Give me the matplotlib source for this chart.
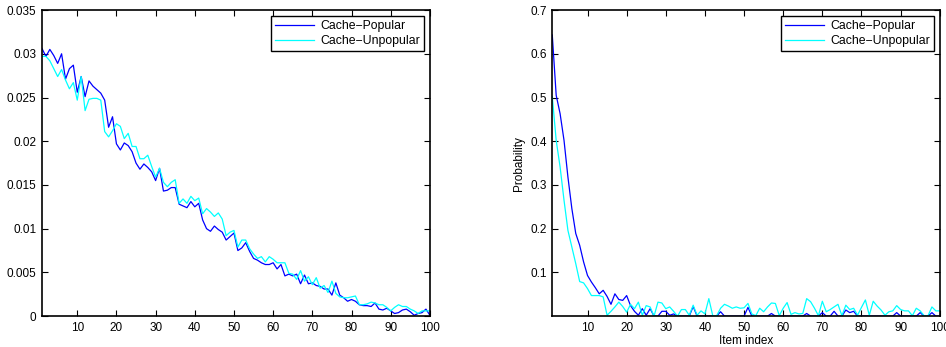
import numpy as np
import matplotlib
matplotlib.use("Agg")
import matplotlib.pyplot as plt

plt.rcParams['font.family'] = ['Liberation Sans', 'DejaVu Sans']

items = np.arange(1, 101)

# left panel
left_popular = [
    0.0306, 0.0297, 0.0305, 0.0298, 0.0289, 0.0300, 0.0271, 0.0283, 0.0287, 0.0256,
    0.0274, 0.0251, 0.0269, 0.0263, 0.0259, 0.0255, 0.0247, 0.0216, 0.0228, 0.0197,
    0.0190, 0.0198, 0.0195, 0.0188, 0.0175, 0.0168, 0.0174, 0.0170, 0.0165, 0.0155,
    0.0169, 0.0143, 0.0144, 0.0147, 0.0147, 0.0128, 0.0126, 0.0124, 0.0131, 0.0125,
    0.0129, 0.0110, 0.0100, 0.0097, 0.0103, 0.0099, 0.0096, 0.0087, 0.0091, 0.0095,
    0.0075, 0.0078, 0.0084, 0.0074, 0.0066, 0.0064, 0.0061, 0.0059, 0.0059, 0.0061,
    0.0054, 0.0059, 0.0046, 0.0048, 0.0046, 0.0048, 0.0037, 0.0047, 0.0037, 0.0038,
    0.0035, 0.0034, 0.0031, 0.0031, 0.0024, 0.0038, 0.0024, 0.0021, 0.0017, 0.0019,
    0.0017, 0.0013, 0.0012, 0.0012, 0.0011, 0.0015, 0.0008, 0.0007, 0.0009, 0.0006,
    0.0003, 0.0004, 0.0007, 0.0008, 0.0005, 0.0001, 0.0003, 0.0004, 0.0008, 0.0001,
]
left_unpopular = [
    0.0297, 0.0297, 0.0292, 0.0283, 0.0274, 0.0282, 0.0270, 0.0260, 0.0267, 0.0247,
    0.0274, 0.0235, 0.0248, 0.0249, 0.0249, 0.0247, 0.0211, 0.0205, 0.0212, 0.0220,
    0.0217, 0.0203, 0.0209, 0.0194, 0.0194, 0.0180, 0.0180, 0.0184, 0.0171, 0.0159,
    0.0169, 0.0153, 0.0148, 0.0153, 0.0156, 0.0129, 0.0134, 0.0129, 0.0137, 0.0132,
    0.0135, 0.0117, 0.0123, 0.0119, 0.0114, 0.0118, 0.0111, 0.0092, 0.0096, 0.0098,
    0.0079, 0.0087, 0.0087, 0.0077, 0.0071, 0.0066, 0.0068, 0.0062, 0.0068, 0.0065,
    0.0061, 0.0061, 0.0061, 0.0049, 0.0048, 0.0042, 0.0052, 0.0040, 0.0045, 0.0036,
    0.0044, 0.0032, 0.0035, 0.0027, 0.0040, 0.0026, 0.0022, 0.0021, 0.0021, 0.0022,
    0.0023, 0.0013, 0.0013, 0.0014, 0.0016, 0.0015, 0.0013, 0.0013, 0.0010, 0.0006,
    0.0010, 0.0013, 0.0011, 0.0011, 0.0008, 0.0006, 0.0003, 0.0006, 0.0006, 0.0006,
]

# right panel
right_popular = [
    0.643, 0.505, 0.463, 0.402, 0.318, 0.246, 0.189, 0.162, 0.124, 0.093,
    0.078, 0.065, 0.051, 0.059, 0.045, 0.027, 0.051, 0.038, 0.036, 0.047,
    0.024, 0.011, 0.002, 0.017, 0.002, 0.017, 0.000, 0.000, 0.011, 0.011,
    0.002, 0.005, 0.000, 0.000, 0.000, 0.000, 0.022, 0.000, 0.000, 0.000,
    0.000, 0.000, 0.000, 0.010, 0.000, 0.000, 0.000, 0.000, 0.000, 0.000,
    0.020, 0.000, 0.000, 0.000, 0.000, 0.000, 0.006, 0.000, 0.000, 0.000,
    0.000, 0.000, 0.000, 0.000, 0.000, 0.006, 0.000, 0.000, 0.000, 0.008,
    0.000, 0.000, 0.011, 0.000, 0.000, 0.014, 0.008, 0.011, 0.000, 0.000,
    0.000, 0.000, 0.000, 0.000, 0.000, 0.000, 0.000, 0.000, 0.008, 0.000,
    0.000, 0.000, 0.000, 0.000, 0.008, 0.000, 0.000, 0.008, 0.000, 0.000,
]
right_unpopular = [
    0.502, 0.402, 0.341, 0.265, 0.196, 0.158, 0.120, 0.079, 0.076, 0.063,
    0.047, 0.047, 0.047, 0.044, 0.002, 0.011, 0.021, 0.032, 0.022, 0.009,
    0.027, 0.017, 0.032, 0.002, 0.024, 0.021, 0.000, 0.032, 0.030, 0.017,
    0.021, 0.011, 0.000, 0.015, 0.015, 0.002, 0.025, 0.002, 0.012, 0.005,
    0.040, 0.001, 0.001, 0.018, 0.027, 0.023, 0.018, 0.021, 0.018, 0.019,
    0.029, 0.005, 0.001, 0.018, 0.010, 0.021, 0.030, 0.029, 0.001, 0.018,
    0.031, 0.004, 0.008, 0.005, 0.006, 0.040, 0.033, 0.018, 0.001, 0.034,
    0.010, 0.015, 0.021, 0.027, 0.001, 0.025, 0.015, 0.018, 0.002, 0.020,
    0.037, 0.002, 0.034, 0.023, 0.014, 0.002, 0.010, 0.012, 0.024, 0.015,
    0.012, 0.012, 0.001, 0.018, 0.012, 0.001, 0.001, 0.021, 0.012, 0.012,
]

x_ticks = [10, 20, 30, 40, 50, 60, 70, 80, 90, 100]
left_yticks = [0, 0.005, 0.01, 0.015, 0.02, 0.025, 0.03, 0.035]
left_ylabels = ['0', '0.005', '0.01', '0.015', '0.02', '0.025', '0.03', '0.035']
right_yticks = [0.1, 0.2, 0.3, 0.4, 0.5, 0.6, 0.7]

fig = plt.figure(figsize=(9.46, 3.47), dpi=100)
ax1 = fig.add_axes([0.0444, 0.089, 0.410, 0.882])
ax2 = fig.add_axes([0.5838, 0.089, 0.4096, 0.882])


def style(ax):
    ax.tick_params(direction='in', length=4, width=0.8, labelsize=8.5,
                   top=True, right=True, pad=4)
    for s in ax.spines.values():
        s.set_linewidth(1.2)


def add_legend(ax):
    leg = ax.legend(loc='upper right', fontsize=8.8, fancybox=False,
                    edgecolor='black', framealpha=1, handlelength=3.2,
                    borderaxespad=0.5, borderpad=0.3, labelspacing=0.25,
                    handletextpad=0.5)
    leg.get_frame().set_linewidth(1.0)


ax1.plot(items, left_popular, color='#0000ff', lw=0.9, label='Cache\u2212Popular')
ax1.plot(items, left_unpopular, color='#00ffff', lw=0.9, label='Cache\u2212Unpopular')
ax1.set_xlim(1, 100)
ax1.set_ylim(0, 0.035)
ax1.set_xticks(x_ticks)
ax1.set_yticks(left_yticks)
ax1.set_yticklabels(left_ylabels)
style(ax1)
add_legend(ax1)

ax2.plot(items, right_popular, color='#0000ff', lw=0.9, label='Cache\u2212Popular')
ax2.plot(items, right_unpopular, color='#00ffff', lw=0.9, label='Cache\u2212Unpopular')
ax2.set_xlim(1, 100)
ax2.set_ylim(0, 0.7)
ax2.set_xticks(x_ticks)
ax2.set_yticks(right_yticks)
ax2.set_xlabel('Item index', fontsize=8.5, labelpad=1)
ax2.set_ylabel('Probability', fontsize=8.5, labelpad=4)
style(ax2)
add_legend(ax2)

fig.savefig('out.png', dpi=100)
